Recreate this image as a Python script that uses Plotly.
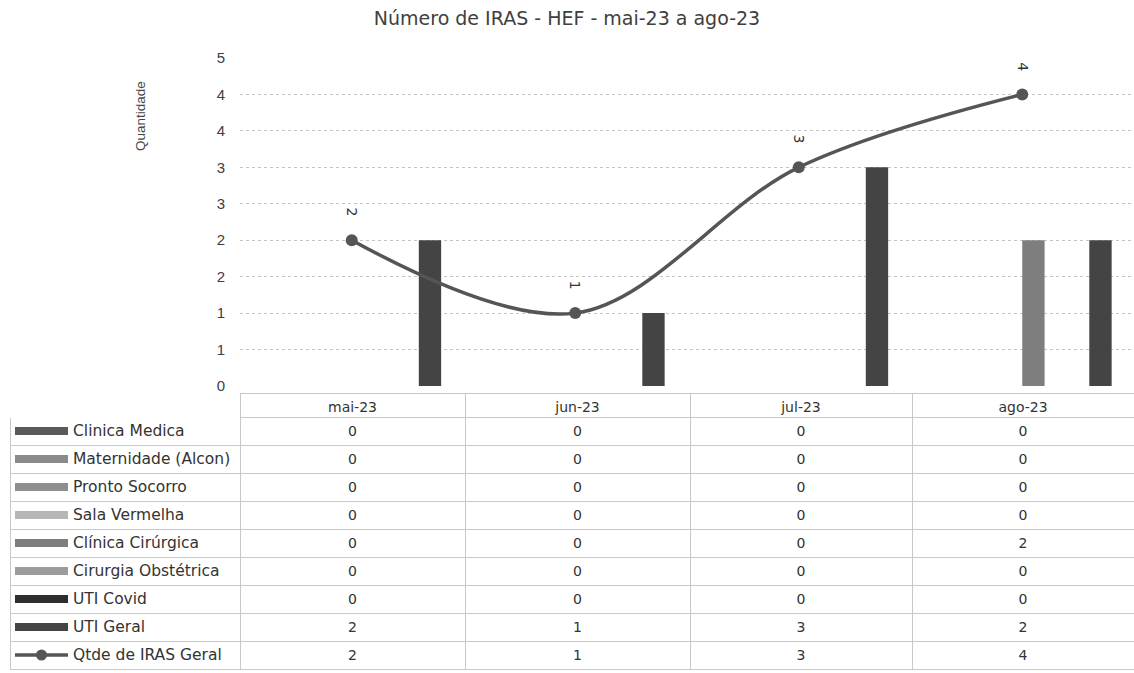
import plotly.graph_objects as go

# Data
months = ["mai-23", "jun-23", "jul-23", "ago-23"]
setores = ["Clinica Medica", "Maternidade (Alcon)", "Pronto Socorro", "Sala Vermelha",
           "Clínica Cirúrgica", "Cirurgia Obstétrica", "UTI Covid", "UTI Geral"]
clinica_medica = [0, 0, 0, 0]
maternidade = [0, 0, 0, 0]
pronto_socorro = [0, 0, 0, 0]
sala_vermelha = [0, 0, 0, 0]
clinica_cirurgica = [0, 0, 0, 2]
cirurgia_obstetrica = [0, 0, 0, 0]
uti_covid = [0, 0, 0, 0]
uti_geral = [2, 1, 3, 2]
qtde_iras = [2, 1, 3, 4]
linha_nome = "Qtde de IRAS Geral"

y_ticks = [0, 0.5, 1, 1.5, 2, 2.5, 3, 3.5, 4, 4.5]
y_tick_labels = ["0", "1", "1", "2", "2", "3", "3", "4", "4", "5"]

series = [clinica_medica, maternidade, pronto_socorro, sala_vermelha,
          clinica_cirurgica, cirurgia_obstetrica, uti_covid, uti_geral]
colors = ["#5a5a5a", "#8a8a8a", "#8e8e8e", "#b6b6b6",
          "#7e7e7e", "#9c9c9c", "#2e2e2e", "#444444"]
line_color = "#555555"

W, H = 1134, 673
FONT = "DejaVu Sans, sans-serif"
FONT_N = "Liberation Sans, Arial, sans-serif"


def px(x):
    return x / W


def py(y):
    return 1 - y / H


fig = go.Figure()

for name, vals, c in zip(setores, series, colors):
    fig.add_trace(go.Bar(x=months, y=vals, name=name, marker_color=c,
                         marker_line_width=0))

fig.add_trace(go.Scatter(x=months, y=qtde_iras, name=linha_nome, mode="lines+markers",
                         line=dict(shape="spline", color=line_color, width=3.5),
                         marker=dict(size=12, color=line_color), cliponaxis=False))

annotations = []
for m, v in zip(months, qtde_iras):
    annotations.append(dict(x=m, y=v, text=str(v), textangle=90, showarrow=False,
                            yshift=28, font=dict(size=14, color="#333", family=FONT)))

# data table under the chart
col_vals = []
for j in range(len(months)):
    col_vals.append([s[j] for s in series] + [qtde_iras[j]])

row_names = setores + [linha_nome]
top_tab, head_h, row_h = 393, 24, 28
fig.add_trace(go.Table(
    domain=dict(x=[px(10), 1], y=[py(673), py(top_tab)]),
    columnwidth=[230, 225, 225, 222, 222],
    header=dict(values=[""] + months, height=head_h, align="center",
                fill_color="white",
                line=dict(color=["white"] + ["#c8c8c8"] * 4, width=1),
                font=dict(size=14, color="#333", family=FONT)),
    cells=dict(values=[[""] * len(row_names)] + col_vals, height=row_h,
               align="center", fill_color="white",
               line=dict(color="#c8c8c8", width=1),
               font=dict(size=14, color="#333", family=FONT)),
))

# legend keys + names in the first column
shapes = []
for i, name in enumerate(row_names):
    yc = top_tab + head_h + (i + 0.5) * row_h
    if i < len(setores):
        shapes.append(dict(type="rect", xref="paper", yref="paper",
                           x0=px(15), x1=px(68), y0=py(yc + 4), y1=py(yc - 4),
                           fillcolor=colors[i], line_width=0))
    else:
        shapes.append(dict(type="line", xref="paper", yref="paper",
                           x0=px(15), x1=px(68), y0=py(yc), y1=py(yc),
                           line=dict(color=line_color, width=3.5)))
        shapes.append(dict(type="circle", xref="paper", yref="paper",
                           x0=px(36), x1=px(47), y0=py(yc + 5.5), y1=py(yc - 5.5),
                           fillcolor=line_color, line_width=0))
    annotations.append(dict(x=px(71), y=py(yc), xref="paper", yref="paper",
                            text=name, showarrow=False, xanchor="left", yanchor="middle",
                            font=dict(size=15.5, color="#333", family=FONT)))

annotations.append(dict(x=px(140), y=py(116), xref="paper", yref="paper",
                        text="Quantidade", textangle=-90, showarrow=False,
                        xanchor="center", yanchor="middle",
                        font=dict(size=13.5, color="#444", family=FONT_N)))

fig.update_layout(
    width=W, height=H,
    margin=dict(l=0, r=0, t=0, b=0, pad=0, autoexpand=False),
    paper_bgcolor="white", plot_bgcolor="white",
    showlegend=False,
    barmode="group", bargap=0.2, bargroupgap=0,
    title=dict(text="Número de IRAS - HEF - mai-23 a ago-23", x=0.5, xanchor="center",
               y=py(18), yanchor="middle",
               font=dict(size=19, color="#404040", family=FONT)),
    xaxis=dict(domain=[px(240), 1], showticklabels=False, showgrid=False,
               zeroline=False, showline=False),
    yaxis=dict(domain=[py(386), py(58)], range=[0, 4.5], tickvals=y_ticks,
               ticktext=y_tick_labels, showgrid=True, gridcolor="#c4c4c4",
               griddash="dot", zeroline=False, showline=False, ticks="",
               ticklabelstandoff=14,
               tickfont=dict(size=15, color="#404040", family=FONT_N)),
    annotations=annotations,
    shapes=shapes,
)

fig.write_html("out.html", config={"displayModeBar": False},
               post_script="document.body.style.margin='0px';")
